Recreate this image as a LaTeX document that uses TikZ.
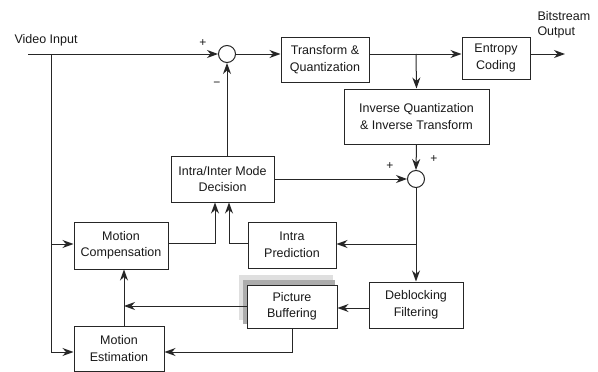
\documentclass[tikz,border=0pt]{standalone}
\usepackage{fontspec}
\setmainfont{Liberation Sans}
\usetikzlibrary{arrows.meta,calc}
\begin{document}
\begin{tikzpicture}[x=1pt,y=-1pt,
  line width=1pt, draw=black!85,
  blk/.style={draw=black!85, fill=white, align=center, inner sep=0pt, font=\fontsize{12.5}{16.5}\selectfont, text=black!90},
  sumc/.style={draw=black!85, circle, minimum size=17pt, inner sep=0pt},
  arr/.style={-{Stealth[length=11pt,width=8pt,inset=3.5pt]}},
  lbl/.style={font=\fontsize{12}{13}\selectfont, text=black!90, inner sep=0pt}]
\useasboundingbox (0,0) rectangle (598,372);
% nodes
\node[sumc] (c1) at (227,54) {};
\node[sumc] (c2) at (416,179) {};
\node[blk, minimum width=88pt, minimum height=45pt] (tq) at (325,59.5) {Transform \&\\Quantization};
\node[blk, minimum width=68pt, minimum height=42pt] (ec) at (496,58) {Entropy\\Coding};
\node[blk, minimum width=145pt, minimum height=55pt] (iq) at (416.5,116.5) {Inverse Quantization\\\& Inverse Transform};
\node[blk, minimum width=103pt, minimum height=46pt] (dec) at (222.5,179) {Intra/Inter Mode\\Decision};
\node[blk, minimum width=94pt, minimum height=47pt] (mc) at (121,245.5) {Motion\\Compensation};
\node[blk, minimum width=90pt, minimum height=45pt] (me) at (119,348.5) {Motion\\Estimation};
\node[blk, minimum width=88pt, minimum height=46pt] (ip) at (292,245) {Intra\\Prediction};
\fill[gray!25] (239,275) rectangle (333,320);
\fill[gray!65] (243,280) rectangle (335,324);
\node[blk, minimum width=90pt, minimum height=43pt] (pb) at (292,306.5) {Picture\\Buffering};
\node[blk, minimum width=94pt, minimum height=46pt] (df) at (416,305) {Deblocking\\Filtering};
% text labels
\node[lbl, anchor=west, font=\fontsize{12.5}{14}\selectfont] (vi) at (14,40) {Video Input};
\node[lbl, anchor=west, align=left, font=\fontsize{12.5}{14.5}\selectfont] (bo) at (537,25) {Bitstream\\Output};
\node[lbl] (p1) at (203,43) {+};
\node[lbl] (m1) at (217,84) {\textminus};
\node[lbl] (p2) at (390,166) {+};
\node[lbl] (p3) at (434,159) {+};
% coordinates
\coordinate (vin) at (28,54);
\coordinate (vx) at (51,54);
\coordinate (vb) at (51,352);
\coordinate (br) at (416,54);
\coordinate (out) at (565,54);
\coordinate (ipb) at (416,244);
\coordinate (mcx) at (215,243);
\coordinate (ipx) at (229,243);
\coordinate (pbx) at (292,352);
\coordinate (meup) at (124,306);
% connectors
\draw[arr] (vin) -- (c1.west);
\draw (vx) -- (vb);
\draw[arr] (vb) -- (me.west |- vb);
\draw[arr] (vx |- 0,244) -- (mc.west |- 0,244);
\draw[arr] (c1.east) -- (tq.west |- c1);
\draw[arr] (tq.east |- c1) -- (ec.west |- c1);
\draw[arr] (ec.east |- c1) -- (out);
\draw[arr] (br) -- (iq.north);
\draw[arr] (iq.south) -- (c2.north);
\draw[arr] (dec.east |- c2.west) -- (c2.west);
\draw[arr] (c1 |- dec.north) -- (c1.south);
\draw[arr] (c2.south) -- (df.north);
\draw[arr] (ipb) -- (ip.east |- ipb);
\draw[arr] (df.west |- 0,308) -- (pb.east |- 0,308);
\draw[arr] (pb.south) -- (pbx) -- (me.east |- pbx);
\draw[arr] (pb.west |- meup) -- (meup);
\draw[arr] (me.north -| meup) -- (mc.south -| meup);
\draw[arr] (mc.east |- mcx) -- (mcx) -- (mcx |- dec.south);
\draw[arr] (ip.west |- ipx) -- (ipx) -- (ipx |- dec.south);
\end{tikzpicture}
\end{document}
